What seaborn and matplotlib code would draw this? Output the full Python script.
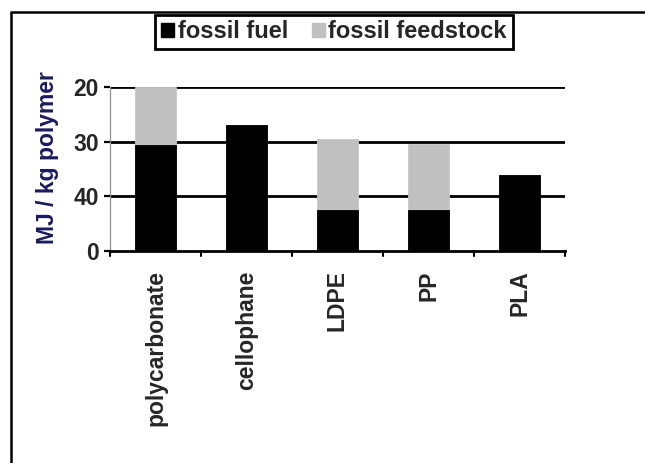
import matplotlib
matplotlib.use("Agg")
import matplotlib.pyplot as plt
import seaborn as sns
import pandas as pd
from matplotlib.lines import Line2D
from matplotlib.patches import Patch

# Energy per kg of polymer, split by use of fossil resources
polymers = ["polycarbonate", "cellophane", "LDPE", "PP", "PLA"]
fossil_fuel = [38.8, 46.0, 15.0, 15.0, 27.8]
fossil_feedstock = [21.2, 0.0, 25.8, 24.1, 0.0]
ytick_values = [0, 20, 40, 60]
ytick_labels = ["0", "40", "30", "20"]

sns.set_theme(style="white")
plt.rcParams["font.family"] = ["Liberation Sans", "DejaVu Sans"]

df = pd.DataFrame({
    "polymer": polymers,
    "fuel": fossil_fuel,
    "total": [a + b for a, b in zip(fossil_fuel, fossil_feedstock)],
})

fig = plt.figure(figsize=(6.45, 4.63), dpi=100)
ax = fig.add_axes([0.1705, 0.458, 0.7055, 0.354])

# stacked bars: full height in grey, fossil fuel part in black over it
sns.barplot(data=df, x="polymer", y="total", order=polymers, color="#c0c0c0",
            width=0.45, saturation=1, edgecolor="#c8c8c8", linewidth=0.6, ax=ax, zorder=3)
sns.barplot(data=df, x="polymer", y="fuel", order=polymers, color="black",
            width=0.45, saturation=1, edgecolor="black", linewidth=0.6, ax=ax, zorder=4)

ax.set_xlim(-0.5, len(polymers) - 0.5)
ax.set_ylim(0, 60)
ax.set_yticks(ytick_values)
ax.set_yticklabels(ytick_labels, fontsize=16.5, fontweight="bold")
ax.set_xticks(range(len(polymers)))
ax.set_xticklabels(polymers, rotation=90, fontsize=16.5, fontweight="bold", va="top")
ax.tick_params(axis="x", length=0, pad=14)
ax.tick_params(axis="y", length=4, width=1.6, color="black", pad=4, left=True)

# category boundary ticks on the x axis
for b in [i - 0.5 for i in range(len(polymers) + 1)]:
    ax.plot([b, b], [0, -2.0], color="black", lw=1.5, clip_on=False, zorder=5)

# horizontal gridlines
for v in ytick_values[1:]:
    ax.axhline(v, color="black", lw=2.0, zorder=2)

for s in ["top", "right"]:
    ax.spines[s].set_visible(False)
ax.spines["left"].set_color("#909090")
ax.spines["left"].set_linewidth(0.9)
ax.spines["bottom"].set_color("black")
ax.spines["bottom"].set_linewidth(2.0)
ax.spines["bottom"].set_zorder(6)

ax.set_xlabel("")
ax.set_ylabel("MJ / kg polymer", fontsize=16.5, fontweight="bold", color="#1a1a5e")
ax.yaxis.set_label_coords(-0.113, 0.57)

handles = [Patch(facecolor="black", edgecolor="black", label="fossil fuel"),
           Patch(facecolor="#c0c0c0", edgecolor="#c0c0c0", label="fossil feedstock")]
leg = fig.legend(handles=handles, loc="center", bbox_to_anchor=(0.518, 0.931), ncol=2,
                 frameon=True, fancybox=False, edgecolor="black", framealpha=1,
                 prop={"weight": "bold", "size": 17}, handlelength=0.55, handleheight=0.55,
                 handletextpad=0.15, columnspacing=1.0, borderpad=0.25, borderaxespad=0)
leg.get_frame().set_linewidth(2.0)

# outer frame
fig.add_artist(Line2D([10 / 645, 1.0], [1 - 12 / 463, 1 - 12 / 463], color="black",
                      lw=1.8, transform=fig.transFigure, solid_capstyle="butt"))
fig.add_artist(Line2D([11 / 645, 11 / 645], [1 - 12 / 463, 0.0], color="black",
                      lw=1.8, transform=fig.transFigure, solid_capstyle="butt"))

fig.savefig("out.png", dpi=100)
